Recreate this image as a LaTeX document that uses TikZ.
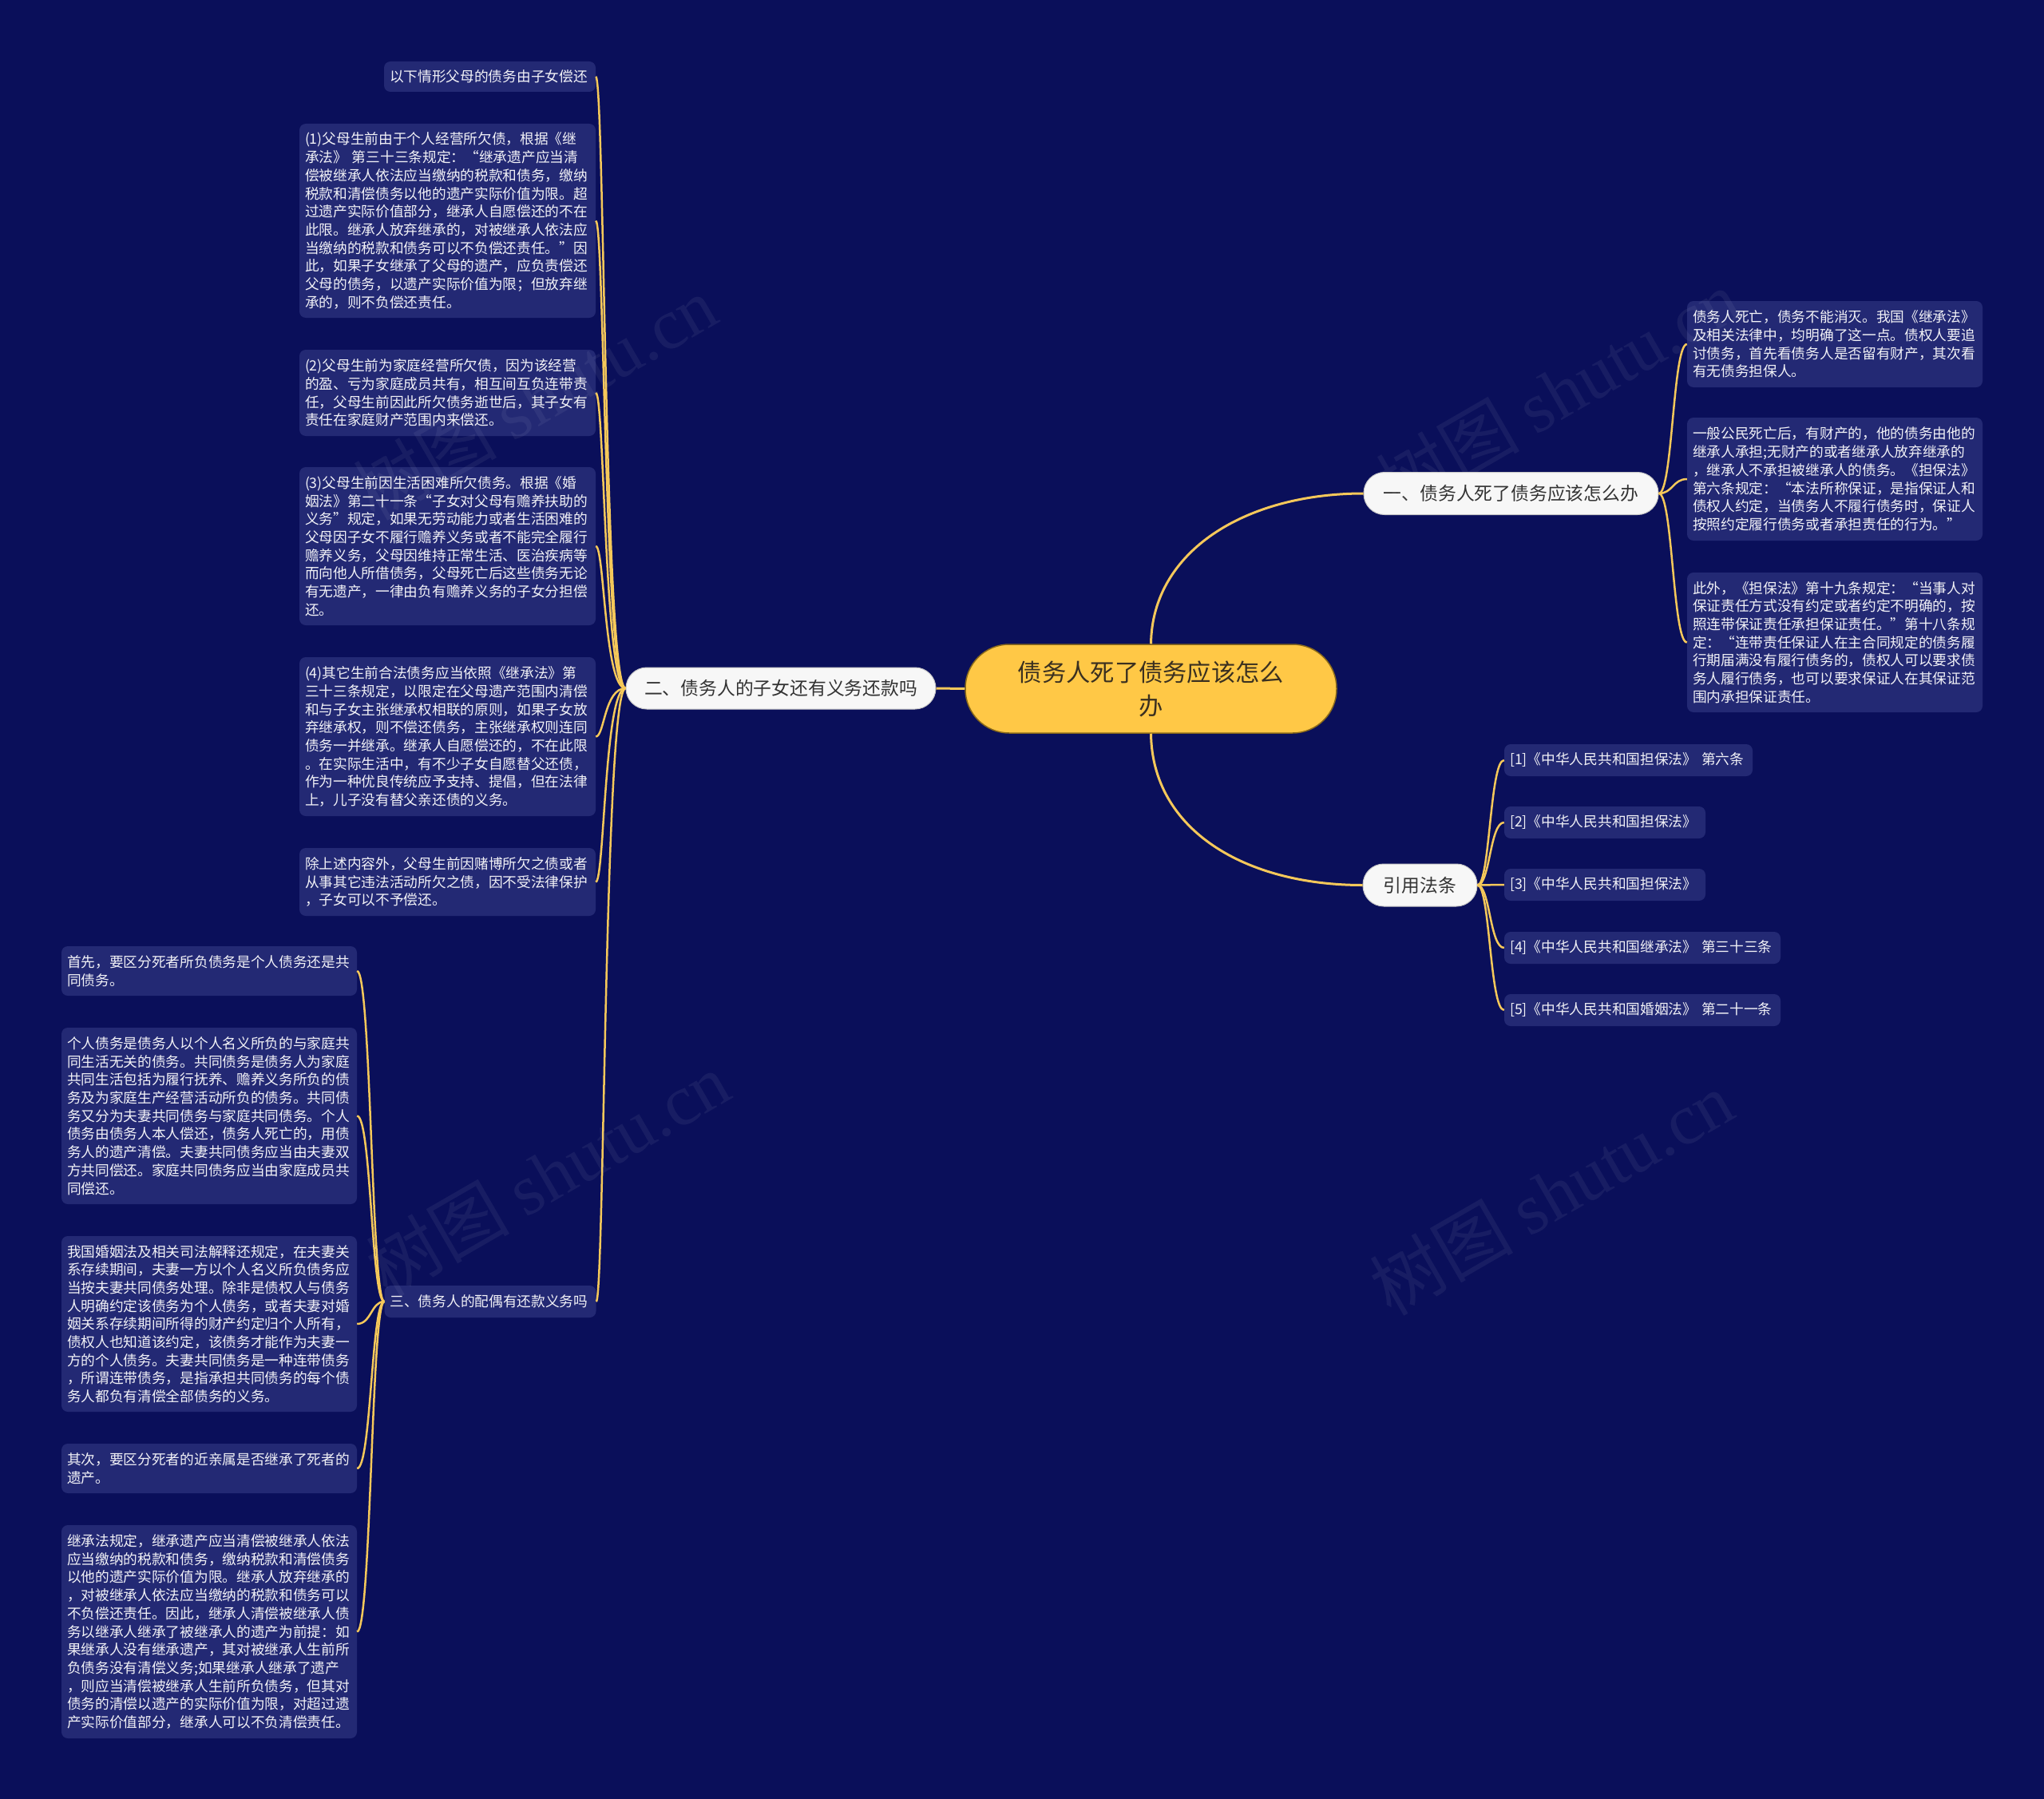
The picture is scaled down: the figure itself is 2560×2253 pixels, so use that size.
\documentclass[tikz,border=0pt]{standalone}
\usepackage{fontspec}
\setmainfont{Noto Sans CJK SC}
\newfontfamily\wmserif{Liberation Serif}
\definecolor{bgc}{HTML}{0A0F5A}
\definecolor{leafc}{HTML}{232974}
\definecolor{linec}{HTML}{F5C85A}
\definecolor{rootc}{HTML}{FFC846}
\definecolor{rootline}{HTML}{8A6A1A}
\definecolor{roottext}{HTML}{3A3020}
\definecolor{pillc}{HTML}{F7F7F7}
\definecolor{pillline}{HTML}{C8C8C8}
\definecolor{pilltext}{HTML}{333333}
\definecolor{leaftext}{HTML}{F2F2F7}
\begin{document}
\begin{tikzpicture}[x=1pt,y=-1pt,
  rootnode/.style={rectangle, rounded corners=55pt, minimum width=465pt, minimum height=111pt,
    fill=rootc, draw=rootline, line width=1.5pt, align=center, text=roottext,
    font=\fontsize{30.3}{42}\selectfont, inner sep=0pt},
  pill/.style={rectangle, rounded corners=26pt, minimum height=53pt, fill=pillc, draw=pillline,
    line width=1pt, text=pilltext, font=\fontsize{22.8}{27}\selectfont, inner sep=0pt},
  leaf/.style={rectangle, rounded corners=8pt, fill=leafc, text=leaftext, align=left,
    font=\fontsize{17.7}{22.7}\selectfont, inner xsep=7pt, inner ysep=0pt},
  conn/.style={draw=linec, line width=2.5pt},
  rconn/.style={draw=linec, line width=3pt},
  wm/.style={rotate=30, text=white, opacity=0.06, font=\fontsize{90}{90}\selectfont}
]
\useasboundingbox (0,0) rectangle (2560,2253);
\fill[bgc] (0,0) rectangle (2560,2253);

% root and main branches
\node[rootnode] (root) at (1441.5,862.5) {债务人死了债务应该怎么\\办};
\node[pill, minimum width=369pt] (B1) at (1892.5,618) {一、债务人死了债务应该怎么办};
\node[pill, minimum width=388pt, minimum height=52pt] (B2) at (978,862) {二、债务人的子女还有义务还款吗};
\node[pill, minimum width=143pt] (Yin) at (1778.5,1108.5) {引用法条};

% branch 1 children
\node[leaf, text width=356pt, minimum height=108pt] (R0) at (2298,431) {债务人死亡，债务不能消灭。我国《继承法》\\及相关法律中，均明确了这一点。债权人要追\\讨债务，首先看债务人是否留有财产，其次看\\有无债务担保人。};
\node[leaf, text width=356pt, minimum height=154pt] (R1) at (2298,600) {一般公民死亡后，有财产的，他的债务由他的\\继承人承担;无财产的或者继承人放弃继承的\\，继承人不承担被继承人的债务。《担保法》\\第六条规定：“本法所称保证，是指保证人和\\债权人约定，当债务人不履行债务时，保证人\\按照约定履行债务或者承担责任的行为。”};
\node[leaf, text width=356pt, minimum height=175pt] (R2) at (2298,804.5) {此外，《担保法》第十九条规定：“当事人对\\保证责任方式没有约定或者约定不明确的，按\\照连带保证责任承担保证责任。”第十八条规\\定：“连带责任保证人在主合同规定的债务履\\行期届满没有履行债务的，债权人可以要求债\\务人履行债务，也可以要求保证人在其保证范\\围内承担保证责任。};

% references
\node[leaf, text width=297pt, minimum height=40pt] (F1) at (2039.5,952) {[1]《中华人民共和国担保法》 第六条};
\node[leaf, text width=238pt, minimum height=40pt] (F2) at (2010,1030) {[2]《中华人民共和国担保法》};
\node[leaf, text width=238pt, minimum height=40pt] (F3) at (2010,1108) {[3]《中华人民共和国担保法》};
\node[leaf, text width=332pt, minimum height=40pt] (F4) at (2057,1187) {[4]《中华人民共和国继承法》 第三十三条};
\node[leaf, text width=332pt, minimum height=40pt] (F5) at (2057,1265) {[5]《中华人民共和国婚姻法》 第二十一条};

% branch 2 children
\node[leaf, text width=251pt, minimum height=38pt] (L0) at (613.5,96) {以下情形父母的债务由子女偿还};
\node[leaf, text width=357pt, minimum height=243pt] (L1) at (560.5,276.5) {(1)父母生前由于个人经营所欠债，根据《继\\承法》 第三十三条规定：“继承遗产应当清\\偿被继承人依法应当缴纳的税款和债务，缴纳\\税款和清偿债务以他的遗产实际价值为限。超\\过遗产实际价值部分，继承人自愿偿还的不在\\此限。继承人放弃继承的，对被继承人依法应\\当缴纳的税款和债务可以不负偿还责任。”因\\此，如果子女继承了父母的遗产，应负责偿还\\父母的债务，以遗产实际价值为限；但放弃继\\承的，则不负偿还责任。};
\node[leaf, text width=357pt, minimum height=108pt] (L2) at (560.5,492) {(2)父母生前为家庭经营所欠债，因为该经营\\的盈、亏为家庭成员共有，相互间互负连带责\\任，父母生前因此所欠债务逝世后，其子女有\\责任在家庭财产范围内来偿还。};
\node[leaf, text width=357pt, minimum height=198pt] (L3) at (560.5,684) {(3)父母生前因生活困难所欠债务。根据《婚\\姻法》第二十一条“子女对父母有赡养扶助的\\义务”规定，如果无劳动能力或者生活困难的\\父母因子女不履行赡养义务或者不能完全履行\\赡养义务，父母因维持正常生活、医治疾病等\\而向他人所借债务，父母死亡后这些债务无论\\有无遗产，一律由负有赡养义务的子女分担偿\\还。};
\node[leaf, text width=357pt, minimum height=199pt] (L4) at (560.5,922.5) {(4)其它生前合法债务应当依照《继承法》第\\三十三条规定，以限定在父母遗产范围内清偿\\和与子女主张继承权相联的原则，如果子女放\\弃继承权，则不偿还债务，主张继承权则连同\\债务一并继承。继承人自愿偿还的，不在此限\\。在实际生活中，有不少子女自愿替父还债，\\作为一种优良传统应予支持、提倡，但在法律\\上，儿子没有替父亲还债的义务。};
\node[leaf, text width=357pt, minimum height=85pt] (L5) at (560.5,1104.5) {除上述内容外，父母生前因赌博所欠之债或者\\从事其它违法活动所欠之债，因不受法律保护\\，子女可以不予偿还。};
\node[leaf, text width=251pt, minimum height=40pt] (L6) at (614,1630) {三、债务人的配偶有还款义务吗};

% branch 3 children
\node[leaf, text width=356pt, minimum height=62pt] (M0) at (262,1216) {首先，要区分死者所负债务是个人债务还是共\\同债务。};
\node[leaf, text width=356pt, minimum height=221pt] (M1) at (262,1397.5) {个人债务是债务人以个人名义所负的与家庭共\\同生活无关的债务。共同债务是债务人为家庭\\共同生活包括为履行抚养、赡养义务所负的债\\务及为家庭生产经营活动所负的债务。共同债\\务又分为夫妻共同债务与家庭共同债务。个人\\债务由债务人本人偿还，债务人死亡的，用债\\务人的遗产清偿。夫妻共同债务应当由夫妻双\\方共同偿还。家庭共同债务应当由家庭成员共\\同偿还。};
\node[leaf, text width=356pt, minimum height=220pt] (M2) at (262,1658) {我国婚姻法及相关司法解释还规定，在夫妻关\\系存续期间，夫妻一方以个人名义所负债务应\\当按夫妻共同债务处理。除非是债权人与债务\\人明确约定该债务为个人债务，或者夫妻对婚\\姻关系存续期间所得的财产约定归个人所有，\\债权人也知道该约定，该债务才能作为夫妻一\\方的个人债务。夫妻共同债务是一种连带债务\\，所谓连带债务，是指承担共同债务的每个债\\务人都负有清偿全部债务的义务。};
\node[leaf, text width=356pt, minimum height=62pt] (M3) at (262,1839) {其次，要区分死者的近亲属是否继承了死者的\\遗产。};
\node[leaf, text width=356pt, minimum height=267pt] (M4) at (262,2043.5) {继承法规定，继承遗产应当清偿被继承人依法\\应当缴纳的税款和债务，缴纳税款和清偿债务\\以他的遗产实际价值为限。继承人放弃继承的\\，对被继承人依法应当缴纳的税款和债务可以\\不负偿还责任。因此，继承人清偿被继承人债\\务以继承人继承了被继承人的遗产为前提：如\\果继承人没有继承遗产，其对被继承人生前所\\负债务没有清偿义务;如果继承人继承了遗产\\，则应当清偿被继承人生前所负债务，但其对\\债务的清偿以遗产的实际价值为限，对超过遗\\产实际价值部分，继承人可以不负清偿责任。};

% trunk coordinates
\coordinate (t1) at (2095,618);
\coordinate (t2) at (757,862);
\coordinate (t3) at (465,1630);
\coordinate (t4) at (1866,1108.5);

% connectors
\draw[rconn] (root.west) -- (B2.east);
\draw[rconn] (root.north) .. controls (1443,690) and (1560,618) .. (B1.west);
\draw[rconn] (root.south) .. controls (1443,1040) and (1560,1108.5) .. (Yin.west);
\foreach \c in {R0,R1,R2}
  \draw[conn] (B1.east) .. controls (t1) and (t1 |- \c.west) .. (\c.west);
\foreach \c in {F1,F2,F3,F4,F5}
  \draw[conn] (Yin.east) .. controls (t4) and (t4 |- \c.west) .. (\c.west);
\foreach \c in {L0,L1,L2,L3,L4,L5,L6}
  \draw[conn] (B2.west) .. controls (t2) and (t2 |- \c.east) .. (\c.east);
\foreach \c in {M0,M1,M2,M3,M4}
  \draw[conn] (L6.west) .. controls (t3) and (t3 |- \c.east) .. (\c.east);

% watermarks
\node[wm] (w1) at (670,498) {树图 {\wmserif shutu.cn}};
\node[wm] (w2) at (1951,490) {树图 {\wmserif shutu.cn}};
\node[wm] (w3) at (686,1470) {树图 {\wmserif shutu.cn}};
\node[wm] (w4) at (1943,1494) {树图 {\wmserif shutu.cn}};
\end{tikzpicture}
\end{document}
